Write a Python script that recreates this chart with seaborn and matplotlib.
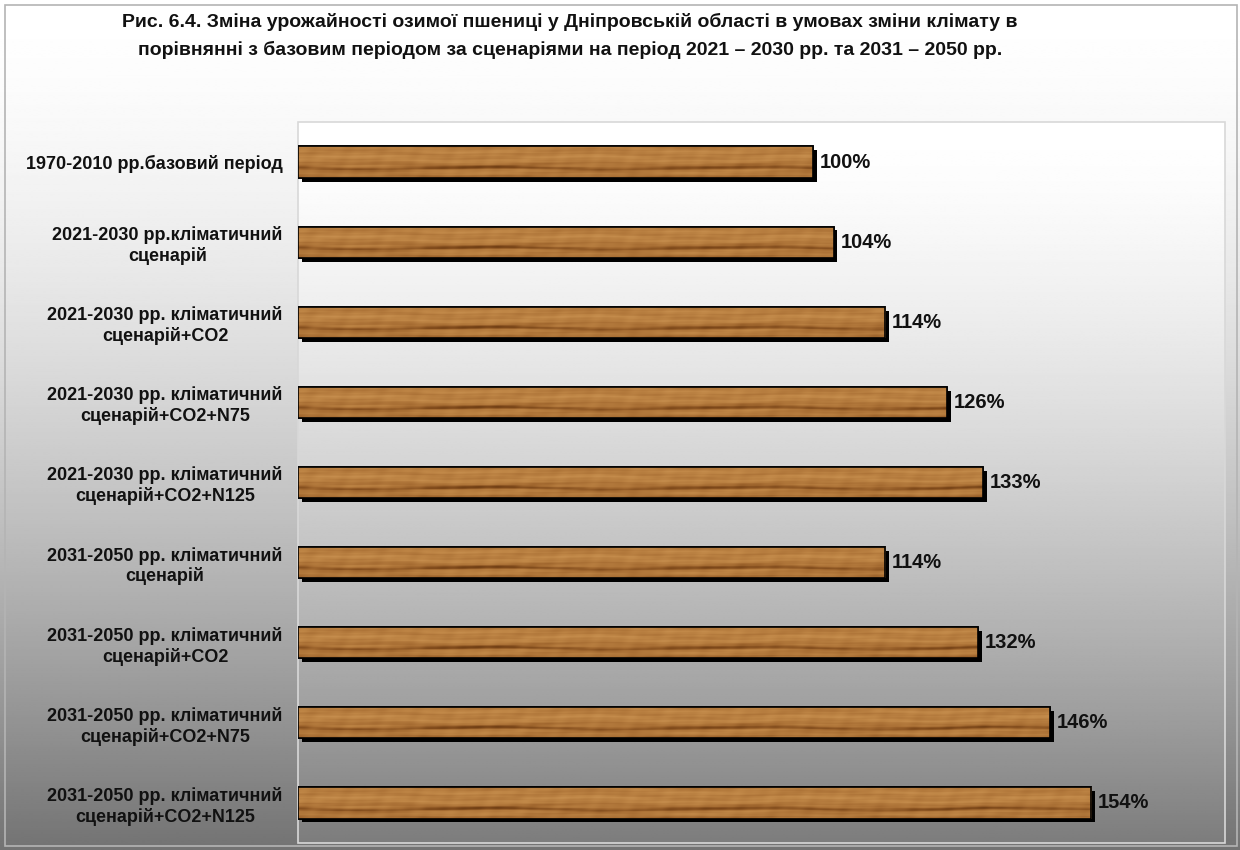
import numpy as np
import pandas as pd
import matplotlib
matplotlib.use("Agg")
import matplotlib.pyplot as plt
import matplotlib.patheffects as pe
from matplotlib.colors import LinearSegmentedColormap
from matplotlib.patches import Rectangle
import seaborn as sns

# ---- data ----
scenarios = [
    "1970-2010 рр.базовий період",
    "2021-2030 рр.кліматичний\nсценарій",
    "2021-2030 рр. кліматичний\nсценарій+CO2",
    "2021-2030 рр. кліматичний\nсценарій+CO2+N75",
    "2021-2030 рр. кліматичний\nсценарій+CO2+N125",
    "2031-2050 рр. кліматичний\nсценарій",
    "2031-2050 рр. кліматичний\nсценарій+CO2",
    "2031-2050 рр. кліматичний\nсценарій+CO2+N75",
    "2031-2050 рр. кліматичний\nсценарій+CO2+N125",
]
yield_pct = [100, 104, 114, 126, 133, 114, 132, 146, 154]

title_lines = [
    "Рис. 6.4. Зміна урожайності озимої пшениці у Дніпровській області в умовах зміни клімату в",
    "порівнянні з базовим періодом за сценаріями на період 2021 – 2030 рр. та 2031 – 2050 рр.",
]

df = pd.DataFrame({"scenario": scenarios, "pct": yield_pct})

sns.set_theme(style="white")
plt.rcParams["font.family"] = ["Liberation Sans", "DejaVu Sans"]
plt.rcParams["font.weight"] = "bold"

W, H = 1240, 850
fig = plt.figure(figsize=(W / 100, H / 100), dpi=100)

# ---- background: vertical grey gradients for chart area and plot area ----
bg = fig.add_axes([0, 0, 1, 1], zorder=-5)
bg.axis("off")
yy = np.linspace(0, 1, 400)[:, None]
outer = 255 - 140 * yy ** 1.6
bg.imshow(np.repeat(outer, 2, axis=1) / 255, cmap="gray", vmin=0, vmax=1,
          extent=(0, W, H, 0), aspect="auto", interpolation="bilinear")
PL, PR, PT, PB = 298, 1225, 122, 843
inner = 255 - 130 * yy ** 1.5
bg.imshow(np.repeat(inner, 2, axis=1) / 255, cmap="gray", vmin=0, vmax=1,
          extent=(PL, PR, PB, PT), aspect="auto", interpolation="bilinear")
bg.add_patch(Rectangle((5, 5), W - 8, H - 9, fill=False, ec="#b4b4b4", lw=1.2))
bg.add_patch(Rectangle((PL, PT), PR - PL, PB - PT, fill=False, ec="#d8d8d8", lw=1.2))
bg.set_xlim(0, W)
bg.set_ylim(H, 0)

# ---- main bar chart ----
ax = fig.add_axes([PL / W, 1 - PB / H, (PR - PL) / W, (PB - PT) / H])
ax.set_facecolor("none")
BAR_H = 0.39
sns.barplot(data=df, x="pct", y="scenario", orient="h", color="#a8703a",
            width=BAR_H, edgecolor="black", linewidth=1.2, saturation=1, ax=ax)

ax.set_xlim(0, 180)
ax.set_ylim(len(scenarios) - 0.5, -0.5)
ax.set_xlabel("")
ax.set_ylabel("")
ax.set_xticks([])
for s in ax.spines.values():
    s.set_visible(False)
ax.tick_params(axis="y", length=0, pad=11)
for lbl in ax.get_yticklabels():
    lbl.set_fontsize(13)
    lbl.set_fontweight("bold")
    lbl.set_multialignment("center")
    lbl.set_color("#111111")

# wood-grain texture for the bars
wood = LinearSegmentedColormap.from_list(
    "wood", ["#4a2608", "#7c4719", "#a66c32", "#bf8646", "#d29c5c"])
px_per_unit = (PR - PL) / 180.0


def wood_texture(length_px, rows=36):
    x = np.arange(length_px)[None, :].astype(float)
    y = np.linspace(0, 1, rows)[:, None]
    v = (0.66
         + 0.06 * np.sin(2 * np.pi * (3.0 * y + 0.30 * np.sin(2 * np.pi * x / 230)))
         + 0.04 * np.sin(2 * np.pi * (7.0 * y + 0.15 * np.sin(2 * np.pi * x / 97 + 1.3))))
    v += 0.03 * np.sin(2 * np.pi * (13 * y + x / 310))
    v += 0.04 * np.sin(2 * np.pi * x / 23 + 5 * y) * np.sin(2 * np.pi * x / 71 + 0.5)
    v += 0.05 * np.exp(-((y - 0.30) / 0.15) ** 2)
    v -= 0.35 * np.exp(-((y - 0.70 - 0.035 * np.sin(2 * np.pi * x / 260)) / 0.06) ** 2)
    v -= 0.10 * np.exp(-((y - 0.60 - 0.03 * np.sin(2 * np.pi * x / 180 + 2)) / 0.04) ** 2)
    v -= 0.12 * np.exp(-((y - 0.97) / 0.06) ** 2)
    v -= 0.06 * np.exp(-((y - 0.02) / 0.05) ** 2)
    return np.clip(v, 0, 1)


for patch, val in zip(ax.patches, yield_pct):
    patch.set_path_effects([pe.SimplePatchShadow(offset=(2.8, -2.8),
                                                 shadow_rgbFace="black", alpha=1),
                            pe.Normal()])
    x0, y0 = patch.get_x(), patch.get_y()
    w, h = patch.get_width(), patch.get_height()
    tex = wood_texture(int(w * px_per_unit))
    im = ax.imshow(tex, cmap=wood, vmin=0, vmax=1, aspect="auto",
                   extent=(x0, x0 + w, y0 + h, y0), interpolation="bilinear",
                   zorder=patch.get_zorder() + 0.1)
    im.set_clip_path(patch)
    ax.add_patch(Rectangle((x0, y0), w, h, fill=False, ec="black", lw=1.2,
                           zorder=patch.get_zorder() + 0.2))
    ax.annotate(f"{val}%", xy=(x0 + w, y0 + h / 2), xytext=(5, 0),
                textcoords="offset points", ha="left", va="center",
                fontsize=14.5, fontweight="bold", color="#111111")

ax.set_xlim(0, 180)
ax.set_ylim(len(scenarios) - 0.5, -0.5)

for line, ypix in zip(title_lines, (22, 50)):
    fig.text(570 / W, 1 - ypix / H, line, ha="center", va="center",
             fontsize=14, fontweight="bold", color="#111111")

fig.savefig("out.png", dpi=100)
